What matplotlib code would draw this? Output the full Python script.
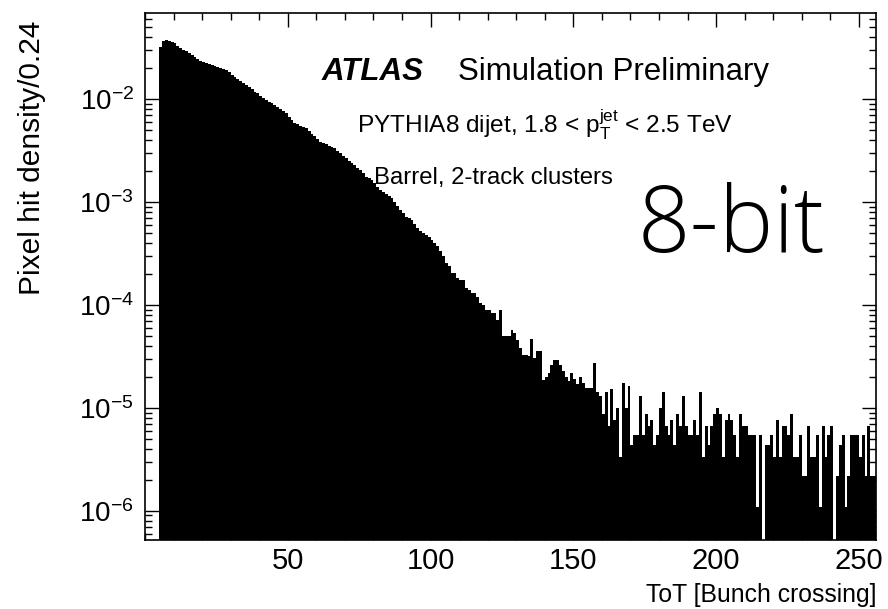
import numpy as np
import matplotlib.pyplot as plt
from matplotlib.ticker import MultipleLocator, LogLocator, NullFormatter, FixedLocator

plt.rcParams['font.family'] = ['Liberation Sans', 'DejaVu Sans']
plt.rcParams['mathtext.fontset'] = 'custom'
plt.rcParams['mathtext.rm'] = 'Liberation Sans'
plt.rcParams['mathtext.it'] = 'Liberation Sans:italic'
plt.rcParams['mathtext.bf'] = 'Liberation Sans:bold'

# ToT bins of width 1, from 5 to 256
first_bin = 5
last_edge = 256

head_density = [
    0.0324, 0.0371, 0.0373, 0.0371, 0.0363, 0.0350, 0.0331, 0.0313, 0.0302, 0.0292,
    0.0283, 0.0269, 0.0256, 0.0244, 0.0237, 0.0230, 0.0224, 0.0219, 0.0215, 0.0211,
    0.0207, 0.0202, 0.0197, 0.0192, 0.0183, 0.0174, 0.0166, 0.0158, 0.0151, 0.0145,
    0.0138, 0.0132, 0.0125, 0.0119, 0.0114, 0.0108, 0.0103, 0.00984, 0.00948, 0.00914,
    0.00881, 0.00841, 0.00802, 0.00766, 0.00731, 0.00679, 0.00631, 0.00585, 0.00569, 0.00552,
    0.00537, 0.00522, 0.00492, 0.00463, 0.00437, 0.00412, 0.00388, 0.00377, 0.00366, 0.00355,
    0.00344, 0.00334, 0.00316, 0.00299, 0.00282, 0.00267, 0.00252, 0.00239, 0.00228, 0.00216,
    0.00206, 0.00191, 0.00177, 0.00171, 0.00165, 0.00153, 0.00142, 0.00132, 0.00126, 0.00120,
    0.00114, 0.00109, 0.00100, 0.000916, 0.000841, 0.000782, 0.000724, 0.000708, 0.000673, 0.000617,
    0.000565, 0.000519, 0.000500, 0.000481, 0.000463, 0.000431, 0.000399, 0.000371, 0.000336, 0.000303,
]

# bins 105..157
mid_density = [
    2.56e-4, 2.37e-4, 2.05e-4, 2.05e-4, 1.82e-4, 1.76e-4, 1.76e-4, 1.45e-4, 1.40e-4, 1.30e-4,
    1.30e-4, 1.20e-4, 1.04e-4, 1.00e-4, 9.0e-5, 9.0e-5, 8.4e-5, 8.4e-5, 7.2e-5, 9.0e-5,
    5.0e-5, 5.0e-5, 5.0e-5, 5.7e-5, 5.3e-5, 4.6e-5, 3.8e-5, 3.3e-5, 3.3e-5, 3.2e-5,
    4.7e-5, 3.07e-5, 3.6e-5, 3.6e-5, 1.87e-5, 2.0e-5, 2.2e-5, 2.6e-5, 2.9e-5, 2.9e-5,
    2.6e-5, 2.26e-5, 1.98e-5, 1.81e-5, 2.2e-5, 1.9e-5, 1.7e-5, 2.0e-5, 1.76e-5, 1.56e-5,
    1.56e-5, 1.56e-5, 2.75e-5,
]

# bins 158..255, the tail is quantised in single hits
hit_unit = 1.1e-6
tail_counts = [
    13, 12, 8, 13, 6, 14, 7, 9, 3, 16,
    9, 15, 4, 5, 5, 12, 5, 8, 6, 7,
    4, 5, 9, 13, 6, 5, 7, 4, 8, 6,
    12, 6, 5, 5, 7, 5, 13, 3, 6, 4,
    6, 8, 9, 8, 3, 7, 8, 7, 5, 3,
    8, 6, 6,
    5, 5, 5, 1, 5, 0, 4, 4, 5, 3,
    7, 3, 6, 6, 5, 8, 3, 3, 5, 2,
    2, 6, 3, 3, 5, 1, 6, 3, 5, 6,
    0, 2, 4, 5, 1, 2, 5, 5, 5, 3,
    5, 2, 6, 2, 2,
]

x_ticks = [50, 100, 150, 200, 250]
y_ticks = [1e-6, 1e-5, 1e-4, 1e-3, 1e-2]
y_tick_labels = [r'$10^{-6}$', r'$10^{-5}$', r'$10^{-4}$', r'$10^{-3}$', r'$10^{-2}$']

edges = np.arange(first_bin, last_edge + 1)
density = np.concatenate([head_density, mid_density, np.array(tail_counts) * hit_unit])
density = np.where(density > 0, density, 1e-12)

fig = plt.figure(figsize=(8.88, 6.09), dpi=100)
ax = fig.add_axes([145/888, 1 - 540/609, 731/888, 527/609])

ax.stairs(density, edges, fill=True, color='black', baseline=1e-12, linewidth=0)

ax.set_yscale('log')
ax.set_xlim(0, 256)
ax.set_ylim(5.2e-7, 6.9e-2)

ax.xaxis.set_major_locator(FixedLocator(x_ticks))
ax.xaxis.set_minor_locator(MultipleLocator(10))
ax.yaxis.set_major_locator(FixedLocator(y_ticks))
ax.yaxis.set_minor_locator(LogLocator(base=10, subs=np.arange(2, 10), numticks=20))
ax.yaxis.set_minor_formatter(NullFormatter())
ax.set_yticklabels(y_tick_labels)

ax.tick_params(which='both', direction='in', top=True, right=True, width=1.0)
ax.tick_params(which='major', length=10)
ax.tick_params(which='minor', length=5)
ax.tick_params(axis='x', labelsize=21, pad=5)
ax.tick_params(axis='y', labelsize=20, pad=8)
for s in ax.spines.values():
    s.set_linewidth(1.2)

ax.set_ylabel('Pixel hit density/0.24', fontsize=21.5, loc='top')
ax.yaxis.set_label_coords(-0.135, 0.985)
ax.set_xlabel('ToT [Bunch crossing]', fontsize=17.8, loc='right')
ax.xaxis.set_label_coords(1.0, -0.081)

fig.text(322/888, 1 - 80/609, 'ATLAS', fontsize=22.5, weight='bold', style='italic', va='baseline')
fig.text(458/888, 1 - 80/609, 'Simulation Preliminary', fontsize=22.5, va='baseline')
fig.text(357/888, 1 - 133/609, r'PYTHIA8 dijet, 1.8 < $\mathrm{p}_{\mathrm{T}}^{\mathrm{jet}}$ < 2.5 TeV',
         fontsize=17.6, va='baseline')
fig.text(374/888, 1 - 184/609, 'Barrel, 2-track clusters', fontsize=17.2, va='baseline')
fig.text(638/888, 1 - 252/609, '8-bit', fontsize=66, family='Open Sans', weight='light', va='baseline')

fig.savefig('out.png', dpi=100)
